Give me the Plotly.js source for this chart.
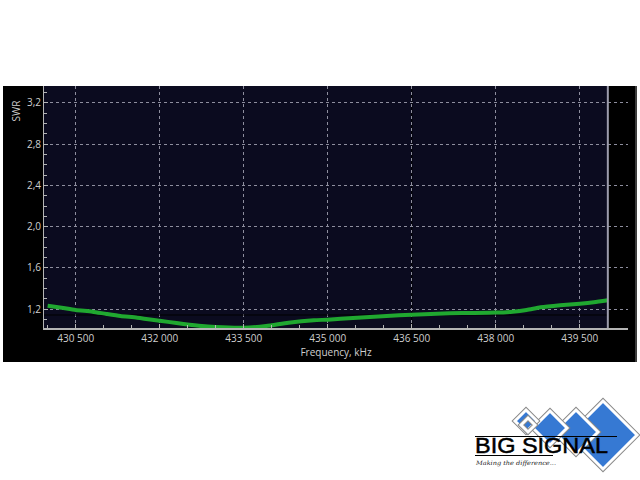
<!DOCTYPE html>
<html>
<head>
<meta charset="utf-8">
<script src="https://cdn.plot.ly/plotly-3.0.1.min.js"></script>
<style>
  html, body { margin: 0; padding: 0; background: #ffffff; }
  #wrap { position: relative; width: 640px; height: 480px; }
  #chart { position: absolute; left: 0; top: 0; width: 640px; height: 480px; }
  #logo { position: absolute; left: 0; top: 0; width: 640px; height: 480px; pointer-events: none; }
</style>
</head>
<body>
<div id="wrap">
  <div id="chart"></div>
  <svg id="logo" width="640" height="480" xmlns="http://www.w3.org/2000/svg"></svg>
</div>
<script>
// ---- data ----
const freqKHz = [430000, 430250, 430500, 430800, 431050, 431300, 431600, 432000, 432300, 432700,
                 433000, 433500, 433900, 434300, 434750, 435000, 435450, 436050, 436500, 436950,
                 437400, 438000, 438300, 438550, 438800, 439150, 439500, 439750, 440000];
const swr = [1.235, 1.215, 1.193, 1.177, 1.155, 1.135, 1.119, 1.090, 1.067, 1.041,
             1.028, 1.021, 1.038, 1.070, 1.094, 1.100, 1.116, 1.135, 1.148, 1.158,
             1.164, 1.168, 1.177, 1.193, 1.219, 1.239, 1.254, 1.268, 1.287];
const xTickVals = [430500, 432000, 433500, 435000, 436500, 438000, 439500];
const xTickText = ['430 500', '432 000', '433 500', '435 000', '436 500', '438 000', '439 500'];
const yTickVals = [1.2, 1.6, 2.0, 2.4, 2.8, 3.2];
const yTickText = ['1,2', '1,6', '2,0', '2,4', '2,8', '3,2'];
const markerFreq = 436500;
const markerSwr = 1.145;
const sweepEnd = 440000;

const axisGray = '#b4b4b4';
const labelGray = '#cfcfcf';
const gridGray = '#8e8e9e';
const font = 'Open Sans, Liberation Sans, Arial, sans-serif';

// paper geometry of the black panel (plot area spans px 44..628, 86..328)
const pw = 584, ph = 242;
const px = v => (v - 44) / pw;
const py = v => (328 - v) / ph;

const trace = {
  type: 'scatter', mode: 'lines',
  x: freqKHz, y: swr,
  line: { color: '#20a830', width: 4, shape: 'spline', smoothing: 0.6 },
  hoverinfo: 'skip'
};

const layout = {
  width: 640, height: 480,
  margin: { l: 44, r: 12, t: 86, b: 152 },
  paper_bgcolor: '#ffffff',
  plot_bgcolor: '#000000',
  showlegend: false,
  xaxis: {
    range: [429935, 440360],
    tickmode: 'array', tickvals: xTickVals, ticktext: xTickText,
    ticks: 'inside', ticklen: 4, tickwidth: 1, tickcolor: axisGray,
    showline: true, linecolor: axisGray, linewidth: 2,
    showgrid: true, gridcolor: gridGray, gridwidth: 1, griddash: 'dot',
    zeroline: false,
    minor: { tickmode: 'linear', tick0: 430000, dtick: 500, ticks: 'inside', ticklen: 3, tickcolor: axisGray, showgrid: false },
    tickfont: { family: font, size: 10, color: labelGray },
    title: { text: 'Frequency, kHz', font: { family: font, size: 10, color: labelGray }, standoff: 4 },
    automargin: false
  },
  yaxis: {
    range: [1.019, 3.362],
    tickmode: 'array', tickvals: yTickVals, ticktext: yTickText,
    ticks: 'inside', ticklen: 4, tickwidth: 1, tickcolor: axisGray,
    showline: true, linecolor: axisGray, linewidth: 1,
    showgrid: true, gridcolor: gridGray, gridwidth: 1, griddash: 'dot',
    zeroline: false,
    minor: { tickmode: 'linear', tick0: 1.0, dtick: 0.1, ticks: 'inside', ticklen: 3, tickcolor: axisGray, showgrid: false },
    tickfont: { family: font, size: 10, color: labelGray },
    automargin: false
  },
  shapes: [
    // black panel
    { type: 'rect', xref: 'paper', yref: 'paper', x0: px(3), x1: px(637), y0: py(362), y1: 1,
      fillcolor: '#000000', line: { width: 0 }, layer: 'below' },
    // thin border at the right of the panel
    { type: 'line', xref: 'paper', yref: 'paper', x0: px(636), x1: px(636), y0: py(362), y1: 1,
      line: { color: '#7a7a7a', width: 1 }, layer: 'below' },
    // navy sweep area
    { type: 'rect', xref: 'x', yref: 'paper', x0: 429935, x1: sweepEnd, y0: 0, y1: 1,
      fillcolor: '#0b0b1f', line: { width: 0 }, layer: 'below' },
    // dark marker lines
    { type: 'line', xref: 'x', yref: 'paper', x0: markerFreq, x1: markerFreq, y0: 0, y1: 1,
      line: { color: '#000000', width: 1 }, layer: 'between' },
    { type: 'line', xref: 'x', yref: 'y', x0: 429935, x1: sweepEnd, y0: markerSwr, y1: markerSwr,
      line: { color: '#000000', width: 1 }, layer: 'between' },
    // sweep end line
    { type: 'line', xref: 'x', yref: 'paper', x0: sweepEnd, x1: sweepEnd, y0: 0, y1: 1,
      line: { color: '#9c9cac', width: 2 }, layer: 'above' }
  ],
  annotations: [
    { text: 'SWR', xref: 'paper', yref: 'paper', x: px(15.5), y: py(111), textangle: -90,
      showarrow: false, xanchor: 'center', yanchor: 'middle',
      font: { family: font, size: 10, color: labelGray } }
  ]
};

Plotly.newPlot('chart', [trace], layout, { displayModeBar: false, staticPlot: true });

// ---- logo (decoration) ----
const svg = document.getElementById('logo');
const NS = 'http://www.w3.org/2000/svg';
function el(name, attrs, text) {
  const e = document.createElementNS(NS, name);
  for (const k in attrs) e.setAttribute(k, attrs[k]);
  if (text) e.textContent = text;
  svg.appendChild(e);
  return e;
}
const diamonds = [
  { cx: 603, cy: 435, r: 34, fill: true },
  { cx: 576, cy: 432, r: 22, fill: true },
  { cx: 550, cy: 428, r: 17, fill: true },
  { cx: 526, cy: 421, r: 11, fill: true },
  { cx: 528, cy: 425, r: 7, fill: false }
];
diamonds.forEach(d => {
  const pts = `${d.cx},${d.cy - d.r} ${d.cx + d.r},${d.cy} ${d.cx},${d.cy + d.r} ${d.cx - d.r},${d.cy}`;
  el('polygon', { points: pts, fill: 'none', stroke: '#8a8a8a', 'stroke-width': 5, 'stroke-linejoin': 'miter' });
  el('polygon', { points: pts, fill: d.fill ? '#3679d3' : 'none', stroke: '#ffffff', 'stroke-width': 3, 'stroke-linejoin': 'miter' });
});
el('line', { x1: 475, y1: 436.5, x2: 617, y2: 436.5, stroke: '#000', 'stroke-width': 1 });
el('line', { x1: 475, y1: 455.5, x2: 553, y2: 455.5, stroke: '#000', 'stroke-width': 1 });
el('text', { x: 475, y: 453, 'font-family': 'Liberation Sans, Arial, sans-serif', 'font-size': 22,
             fill: '#000', stroke: '#000', 'stroke-width': 0.5,
             textLength: 133, lengthAdjust: 'spacingAndGlyphs' }, 'BIG SIGNAL');
el('text', { x: 476, y: 465, 'font-family': 'DejaVu Serif, serif', 'font-size': 6, 'font-style': 'italic',
             fill: '#222', textLength: 80, lengthAdjust: 'spacingAndGlyphs' }, 'Making the difference...');
</script>
</body>
</html>
